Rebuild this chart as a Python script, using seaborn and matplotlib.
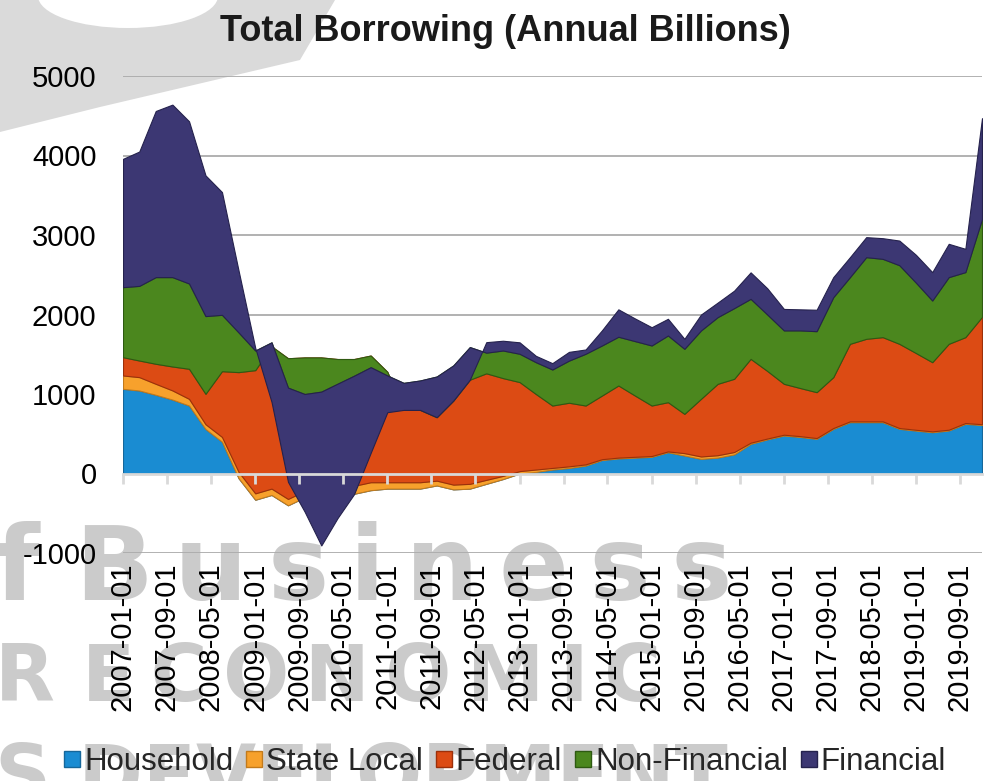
import pandas as pd
import matplotlib
matplotlib.use("Agg")
import matplotlib.pyplot as plt
import matplotlib.dates as mdates
from matplotlib.lines import Line2D
from matplotlib.patches import Polygon, Ellipse
import seaborn as sns

# Quarterly borrowing by sector, annual rate, billions of dollars (2007Q1 - 2020Q1)
quarters = pd.date_range("2007-01-01", "2020-01-01", freq="QS")

household = [1065, 1044, 990, 930, 855, 560, 400, -60, -330, -270,
             -400, -300, -250, -300, -255, -210, -190, -190, -190, -150,
             -200, -190, -130, -70, 0, 20, 50, 70, 100, 170,
             190, 200, 210, 268, 226, 184, 200, 240, 373, 430,
             478, 460, 436, 562, 646, 646, 646, 562, 540, 520,
             541, 625, 610]
state_local = [168, 168, 138, 115, 84, 60, 60, 80, 80, 80,
               80, 80, 100, 100, 100, 100, 80, 80, 80, 60,
               60, 60, 50, 40, 30, 30, 20, 20, 15, 10,
               10, 10, 10, 10, 30, 30, 30, 30, 15, 10,
               10, 10, 10, 10, 10, 10, 10, 10, 10, 10,
               10, 10, 10]
federal = [230, 209, 252, 301, 378, 382, 827, 1255, 1550, 1790,
           1770, 1680, 1610, 1640, 1595, 1594, 1389, 910, 910, 798,
           1058, 1310, 1340, 1230, 1120, 950, 785, 800, 740, 800,
           907, 770, 635, 619, 494, 726, 898, 921, 1054, 850,
           640, 605, 577, 640, 975, 1038, 1059, 1059, 965, 870,
           1080, 1080, 1350]
non_financial = [881, 939, 1090, 1124, 1073, 978, 709, 499, 247, 50,
                 -370, -460, -430, -310, -210, -147, -46, 340, 370, 512,
                 442, 410, 260, 347, 356, 400, 453, 530, 651, 630,
                 613, 685, 755, 839, 818, 860, 839, 889, 755, 710,
                 672, 725, 767, 1006, 839, 1027, 985, 989, 885, 776,
                 839, 818, 1230]
financial = [1614, 1690, 2090, 2170, 2040, 1770, 1544, 776, 33, -750,
             -1185, -1480, -1935, -1690, -1490, -1077, -462, -340, -370, -512,
             -442, -410, 132, 123, 144, 80, 80, 110, 54, 190,
             345, 285, 230, 210, 126, 200, 183, 220, 333, 330,
             270, 265, 270, 252, 251, 252, 260, 310, 350, 357,
             419, 293, 1270]

series_names = ["Household", "State Local", "Federal", "Non-Financial", "Financial"]
fill_colors = ["#1a8cd2", "#f7a12c", "#dc4b14", "#4b871e", "#3c3773"]
edge_colors = ["#16679a", "#c27a1c", "#9c300a", "#2e5a12", "#25224d"]

tick_dates = pd.date_range("2007-01-01", "2019-09-01", freq="8MS")
y_ticks = [-1000, 0, 1000, 2000, 3000, 4000, 5000]

sns.set_theme(style="white")
plt.rcParams["font.family"] = ["Liberation Sans", "DejaVu Sans"]

W, H = 990, 781
fig = plt.figure(figsize=(W / 100, H / 100), dpi=100, facecolor="white")

# faint logo artwork behind the chart
fig.patches.append(Polygon(
    [(0, 1), (335 / W, 1), (300 / W, 1 - 60 / H), (100 / W, 1 - 107 / H),
     (0, 1 - 132 / H)],
    closed=True, transform=fig.transFigure, facecolor="#dadada", edgecolor="none",
    zorder=-6))
fig.patches.append(Ellipse((128 / W, 1 + 4 / H), 180 / W, 64 / H,
                           transform=fig.transFigure, facecolor="white",
                           edgecolor="none", zorder=-5.5))
wm = dict(color="#cbcbcb", fontweight="bold", zorder=-5, ha="left", va="baseline",
          family=["DejaVu Sans"])
thin = "\u2009"
fig.text(-0.005, 0.232, "f " + thin.join("Business"), fontsize=74, **wm)
fig.text(-0.005, 0.103, "R " + thin.join("ECONOMIC"), fontsize=56, **wm)
fig.text(-0.005, -0.025, "S DEVELOPMENT", fontsize=56, **wm)

ax = fig.add_axes([123 / W, 1 - 553 / H, (982 - 123) / W, (553 - 76) / H])
ax.patch.set_alpha(0)

x = mdates.date2num(quarters)

# horizontal gridlines behind the areas
for yv in y_ticks:
    if yv != 0:
        ax.axhline(yv, color="#ababab", lw=1.3, zorder=0)

layers = ax.stackplot(x, household, state_local, federal, non_financial, financial,
                      colors=fill_colors, zorder=1, linewidth=0.8)
for poly, ec in zip(layers, edge_colors):
    poly.set_edgecolor(ec)

ax.set_xlim(x[0], x[-1])
ax.set_ylim(-1000, 5000)

# category axis crossing at zero, drawn over the areas
ax.set_axisbelow(False)
for side in ["top", "right", "left"]:
    ax.spines[side].set_visible(False)
ax.spines["bottom"].set_position(("data", 0))
ax.spines["bottom"].set_color("#d9d9d9")
ax.spines["bottom"].set_linewidth(2)
ax.spines["bottom"].set_zorder(3)
tick_pos = mdates.date2num(tick_dates)
ax.set_xticks(tick_pos)
ax.tick_params(axis="x", length=7, width=2, color="#d9d9d9", direction="out",
               labelbottom=False, bottom=True)
ax.xaxis.set_zorder(3)

ax.set_yticks(y_ticks)
ax.set_yticklabels([str(v) for v in y_ticks])
ax.tick_params(axis="y", length=0, pad=19, labelsize=21, labelcolor="black")

# date labels along the bottom edge of the plot
sec = ax.secondary_xaxis("bottom")
sec.set_xticks(tick_pos)
sec.set_xticklabels([d.strftime("%Y-%m-%d") for d in tick_dates])
sec.tick_params(axis="x", length=0, pad=7, labelsize=21, labelrotation=90, labelcolor="black")
sec.spines["bottom"].set_visible(False)

fig.text(0.51, 0.960, "Total Borrowing (Annual Billions)", ha="center", va="center",
         fontsize=26, fontweight="bold", color="#1a1a1a")

handles = [Line2D([], [], marker="s", ls="", markersize=11, markerfacecolor=c,
                  markeredgecolor=e) for c, e in zip(fill_colors, edge_colors)]
fig.legend(handles, series_names, loc="center", bbox_to_anchor=(0.51, 0.024), ncol=5,
           frameon=False, fontsize=22.5, handlelength=0.55, handletextpad=0.1,
           columnspacing=0.4, borderaxespad=0)

fig.savefig("out.png", dpi=100, facecolor="white")
